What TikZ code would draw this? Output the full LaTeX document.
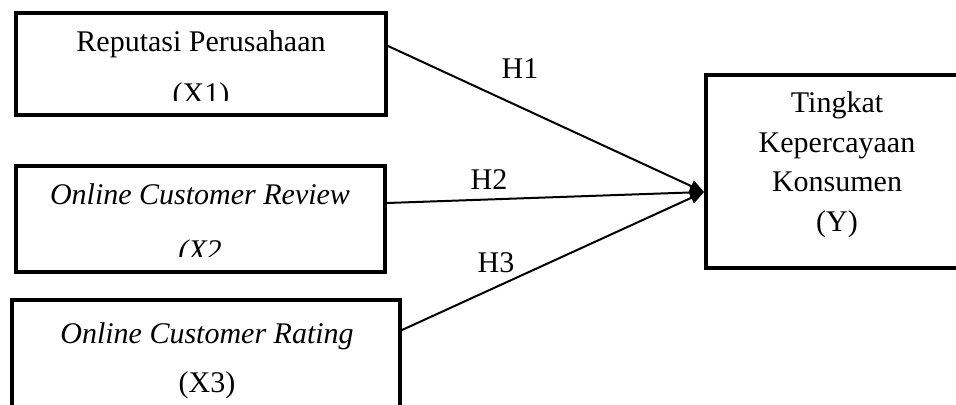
\documentclass[tikz,border=0pt]{standalone}
\usepackage{fontspec}
\setmainfont{Liberation Serif}
\usetikzlibrary{arrows.meta}
\begin{document}
\begin{tikzpicture}[x=0.5pt,y=-0.5pt,
  box/.style={draw,line width=2pt,rectangle,inner sep=0pt},
  txt/.style={anchor=base,inner sep=0pt,font=\fontsize{15}{20}\selectfont},
  conn/.style={line width=1pt,-{Triangle[length=7pt,width=6pt]}},
  hlab/.style={inner sep=0pt,font=\fontsize{15}{20}\selectfont}]
\useasboundingbox (0,0) rectangle (956,405);
\clip (0,0) rectangle (956,405);
% boxes
\node[box,minimum width=185pt,minimum height=51pt] (b1) at (201,64) {};
\node[box,minimum width=184.5pt,minimum height=53pt] (b2) at (200.5,219) {};
\node[box,minimum width=194pt,minimum height=90pt] (b3) at (206,390) {};
\node[box,minimum width=197pt,minimum height=96.5pt] (by) at (903,171.5) {};
% texts
\node[txt] (t1a) at (201,52) {Reputasi Perusahaan};
\begin{scope}
\clip (20,60) rectangle (380,101);
\node[txt] (t1b) at (201,104) {(X1)};
\end{scope}
\node[txt] (t2a) at (200,205) {\itshape Online Customer Review};
\begin{scope}
\clip (20,215) rectangle (380,257);
\node[txt] (t2b) at (200,261) {\itshape (X2};
\end{scope}
\node[txt] (t3a) at (207,343) {\itshape Online Customer Rating};
\node[txt] (t3b) at (207,392) {(X3)};
\node[txt] (ty1) at (837,113) {Tingkat};
\node[txt] (ty2) at (837,153) {Kepercayaan};
\node[txt] (ty3) at (837,192) {Konsumen};
\node[txt] (ty4) at (837,232) {(Y)};
% connectors
\coordinate (tip) at ([yshift=-10.25pt]by.west);
\draw[conn] ([yshift=9pt]b1.east) -- (tip);
\draw[conn] ([yshift=8pt]b2.east) -- (tip);
\draw[conn] ([yshift=-16pt]b3.north east) -- (tip);
% labels
\node[hlab] (h1) at (520,69) {H1};
\node[hlab] (h2) at (489,180) {H2};
\node[hlab] (h3) at (496,263) {H3};
\end{tikzpicture}
\end{document}
